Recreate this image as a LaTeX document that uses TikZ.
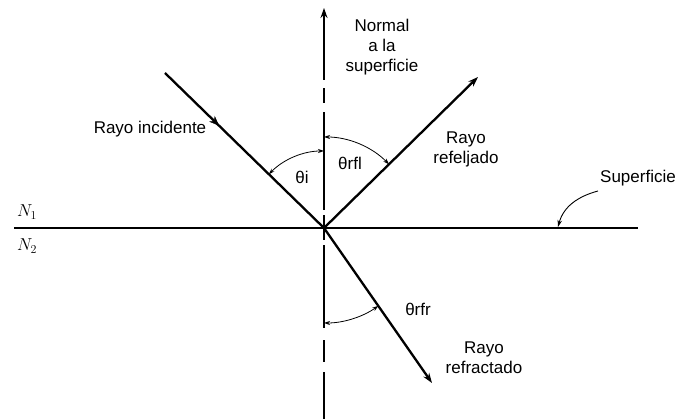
\documentclass[tikz,border=0pt]{standalone}
\usepackage{fontspec}
\setmainfont{Liberation Sans}
\usetikzlibrary{arrows.meta,decorations.markings}

\begin{document}
\begin{tikzpicture}[x=1pt,y=1pt,>={Stealth[length=10pt,width=7pt]},
  ray/.style={line width=2.3pt},
  angarc/.style={line width=0.8pt,{Stealth[length=6pt,width=4pt]}-{Stealth[length=6pt,width=4pt]}},
  lbl/.style={font=\fontsize{17}{20}\selectfont,align=center,inner sep=0pt}]
\useasboundingbox (0,0) rectangle (681,419);
\coordinate (O) at (324,191);
\coordinate (L) at (14,191);
\coordinate (R) at (638,191);
\coordinate (Ntop) at (324,411);
\coordinate (Nbot) at (324,0);
\coordinate (Inc) at (165,346);
\coordinate (Rfl) at (478,342);
\coordinate (Rfr) at (432,36);
\coordinate (Sup) at (598,228);
\coordinate (SupEnd) at (558,192);

\draw[line width=1.6pt] (L) -- (R);
\draw[line width=1.3pt,->,dash pattern=on 47pt off 10pt on 22pt off 12pt on 83pt off 5pt on 25pt off 5pt on 98pt off 9pt on 15pt off 8pt on 72pt] (Nbot) -- (Ntop);

\draw[ray,decoration={markings,mark=at position 0.34 with {\arrow[line width=0.4pt]{Stealth[length=10pt,width=8pt]}}},postaction={decorate}] (Inc) -- (O);
\draw[ray,->] (O) -- (Rfl);
\draw[ray,->] (O) -- (Rfr);

\draw[angarc] ([shift={(135.7:77)}]O) arc (135.7:90:77);
\draw[angarc] ([shift={(90:91)}]O) arc (90:44.4:91);
\draw[angarc] ([shift={(-90:95)}]O) arc (-90:-55.1:95);

\draw[line width=0.9pt,->,>={Stealth[length=7pt,width=4.5pt]}] (Sup) to[out=195,in=75] (SupEnd);

\node[lbl] (normal) at (382,372) {Normal\\a la\\superficie};
\node[lbl] (inc) at (150,290) {Rayo incidente};
\node[lbl] (rfl) at (466,270) {Rayo\\refeljado};
\node[lbl] (rfr) at (484,61) {Rayo\\refractado};
\node[lbl] (sup) at (638,241) {Superficie};
\node[lbl] (thi) at (302,242) {θi};
\node[lbl] (thrfl) at (350,256) {θrfl};
\node[lbl] (thrfr) at (418,110) {θrfr};
\node[font=\fontsize{17}{20}\selectfont] (n1) at (27,207) {$N_1$};
\node[font=\fontsize{17}{20}\selectfont] (n2) at (27,173) {$N_2$};
\end{tikzpicture}
\end{document}
